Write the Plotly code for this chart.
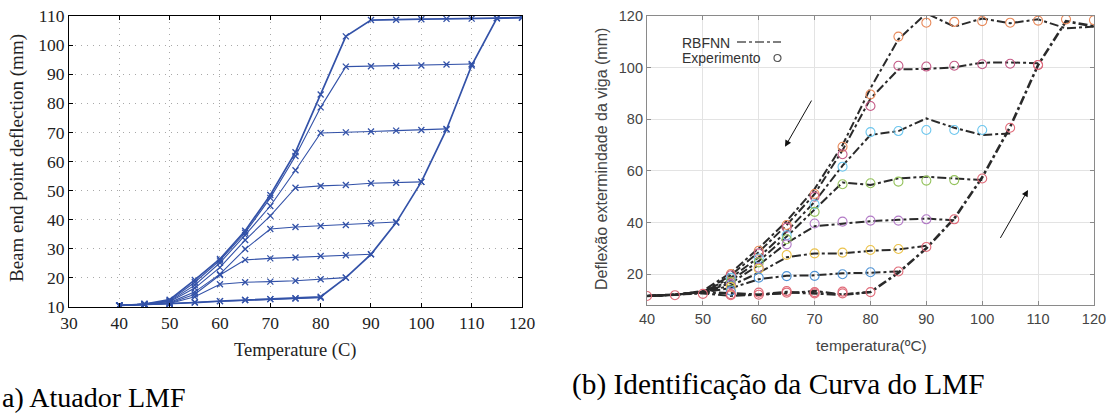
import plotly.graph_objects as go

# ---------------- Left panel data (a) ----------------
left_heat_T = [40, 45, 50, 55, 60, 65, 70, 75, 80, 85, 90, 95, 100, 105, 110, 115, 120]
left_heat_v = [10.5, 10.8, 11, 11.5, 12, 12.4, 12.7, 13, 13.5, 20.1, 28.1, 39, 53, 71, 93, 109.2, 109.5]

left_cool_T = {
    120: [120, 115, 110, 105, 100, 95, 90, 85, 80, 75, 70, 65, 60, 55, 50, 45, 40],
    110: [110, 105, 100, 95, 90, 85, 80, 75, 70, 65, 60, 55, 50, 45, 40],
    105: [105, 100, 95, 90, 85, 80, 75, 70, 65, 60, 55, 50, 45, 40],
    100: [100, 95, 90, 85, 80, 75, 70, 65, 60, 55, 50, 45, 40],
    95: [95, 90, 85, 80, 75, 70, 65, 60, 55, 50, 45, 40],
    90: [90, 85, 80, 75, 70, 65, 60, 55, 50, 45, 40],
    85: [85, 80, 75, 70, 65, 60, 55, 50, 45, 40],
    80: [80, 75, 70, 65, 60, 55, 50, 45, 40],
}
left_cool_v = {
    120: [109.4, 109.2, 109.1, 109, 108.9, 108.7, 108.6, 103, 83, 63.2, 48.5, 36.2, 26.5, 19.3, 12.5, 11, 10.5],
    110: [93.5, 93.3, 93, 92.8, 92.7, 92.6, 78.6, 61.9, 47.5, 35.5, 26, 18.5, 12.2, 11, 10.5],
    105: [71.2, 70.8, 70.6, 70.3, 70, 69.8, 57, 44.7, 34.7, 25.2, 17.5, 12, 11, 10.5],
    100: [53, 52.7, 52.5, 51.9, 51.6, 51, 41.3, 33, 23.6, 16.5, 11.8, 11, 10.5],
    95: [39.2, 38.8, 38.2, 37.8, 37.5, 36.8, 29.9, 21.3, 15.2, 11.5, 10.9, 10.5],
    90: [28.1, 27.8, 27.5, 27, 26.7, 26.2, 21, 14.4, 11.3, 10.8, 10.5],
    85: [20.1, 19.5, 19, 18.7, 18.5, 17.8, 13.5, 11.2, 10.8, 10.5],
    80: [13.2, 12.9, 12.7, 12.4, 12, 11.6, 11.1, 10.8, 10.5],
}

# ---------------- Right panel data (b) ----------------
heat_T = [40, 45, 50, 55, 60, 65, 70, 75, 80, 85, 90, 95, 100, 105, 110, 115, 120]
heat_rbf = [11.5, 12, 13, 12.5, 12, 13, 12.5, 12, 13, 20.5, 30, 41.5, 57.5, 77, 101, 118, 116]
heat_exp_T = [40, 45, 50, 55, 60, 65, 70, 75, 80, 85, 90, 95, 100, 105, 110]
heat_exp = [11.5, 11.8, 12.3, 11.8, 12, 12.8, 12.5, 12.5, 13, 21, 30.5, 41.2, 57, 76.7, 101]

cycle_max = [120, 110, 105, 100, 95, 90, 85, 80]
cycle_colors = ["#e8895a", "#c45a86", "#6cc6ee", "#93c25a", "#b27ac6", "#ebc24a", "#4f94d6", "#e06a78"]

rbf_T = {
    120: [120, 115, 110, 105, 100, 95, 90, 85, 80, 75, 70, 65, 60, 55, 50, 45, 40],
    110: [110, 105, 100, 95, 90, 85, 80, 75, 70, 65, 60, 55, 50, 45, 40],
    105: [105, 100, 95, 90, 85, 80, 75, 70, 65, 60, 55, 50, 45, 40],
    100: [100, 95, 90, 85, 80, 75, 70, 65, 60, 55, 50, 45, 40],
    95: [95, 90, 85, 80, 75, 70, 65, 60, 55, 50, 45, 40],
    90: [90, 85, 80, 75, 70, 65, 60, 55, 50, 45, 40],
    85: [85, 80, 75, 70, 65, 60, 55, 50, 45, 40],
    80: [80, 75, 70, 65, 60, 55, 50, 45, 40],
}
rbf_v = {
    120: [115.9, 115.2, 118.7, 117.2, 119, 115.9, 121, 111, 92, 70, 53, 40.5, 30, 20.5, 13.5, 12, 11.5],
    110: [101.7, 102, 101.9, 100.1, 99.5, 99.3, 88, 68, 51, 39, 28.5, 19.5, 13, 12, 11.5],
    105: [74.5, 73.9, 76.7, 80.3, 75.4, 73.9, 62, 48, 36.5, 26.5, 18.5, 13, 12, 11.5],
    100: [56.4, 57.1, 57.7, 57.1, 54.5, 55.5, 45, 34.5, 25, 17.5, 13, 12, 11.5],
    95: [40.8, 41.5, 41, 40.5, 39.5, 38.5, 32, 23.5, 16.5, 13, 12, 11.5],
    90: [31, 29.5, 29, 28, 28, 26.5, 20.5, 15.5, 13, 12, 11.5],
    85: [21, 20.5, 20.3, 19.5, 19.3, 18, 14.5, 13, 12, 11.5],
    80: [13, 12, 13.5, 12.5, 12, 11.5, 12.5, 12, 11.5],
}
exp_T = {
    120: [120, 115, 110, 105, 100, 95, 90, 85, 80, 75, 70, 65, 60, 55],
    110: [110, 105, 100, 95, 90, 85, 80, 75, 70, 65, 60, 55],
    105: [100, 95, 90, 85, 80, 75, 70, 65, 60, 55],
    100: [95, 90, 85, 80, 75, 70, 65, 60, 55],
    95: [90, 85, 80, 75, 70, 65, 60, 55],
    90: [85, 80, 75, 70, 65, 60, 55],
    85: [80, 75, 70, 65, 60, 55],
    80: [75, 70, 65, 60, 55],
}
exp_v = {
    120: [118.4, 118.7, 118.2, 117.4, 118, 117.7, 117.4, 112, 89.6, 69.3, 51, 39, 29, 20],
    110: [101, 101.5, 101.3, 100.7, 100.4, 100.7, 85.1, 66.4, 50, 38, 28, 19.5],
    105: [75.8, 75.8, 75.8, 75.4, 75, 61.6, 47, 35, 26, 18.5],
    100: [56.4, 56.2, 55.8, 55.2, 54.8, 44.1, 33.5, 24.5, 17],
    95: [41.2, 40.7, 40.7, 40.3, 39.6, 31.5, 22.5, 16],
    90: [29.7, 29.3, 28.3, 28, 27.4, 22, 15],
    85: [20.7, 19.9, 19.3, 19.2, 18.6, 13.5],
    80: [13.2, 13, 13.4, 12.8, 12.2],
}

arrows = [  # (tail T, tail v, head T, head v)
    (69.6, 87.8, 64.7, 69.3),
    (103.1, 33.4, 108.2, 52.6),
]

BLUE = "#3352a8"
fig = go.Figure()

# Left panel traces
for tmax in [80, 85, 90, 95, 100, 105, 110, 120]:
    fig.add_trace(go.Scatter(
        x=left_cool_T[tmax], y=left_cool_v[tmax], mode="lines+markers",
        line=dict(color=BLUE, width=1.7 if tmax == 120 else 1.1),
        marker=dict(symbol="x-thin", size=6, line=dict(color=BLUE, width=1.3)),
        xaxis="x", yaxis="y", showlegend=False))
fig.add_trace(go.Scatter(
    x=left_heat_T, y=left_heat_v, mode="lines+markers",
    line=dict(color=BLUE, width=1.7),
    marker=dict(symbol="x-thin", size=6, line=dict(color=BLUE, width=1.3)),
    xaxis="x", yaxis="y", showlegend=False))

# Right panel traces
fig.add_trace(go.Scatter(
    x=heat_T, y=heat_rbf, mode="lines", line=dict(color="#2a2a2a", width=2.6, dash="dashdot"),
    xaxis="x2", yaxis="y2", showlegend=False))
for tmax in cycle_max:
    fig.add_trace(go.Scatter(
        x=rbf_T[tmax], y=rbf_v[tmax], mode="lines",
        line=dict(color="#2a2a2a", width=2, dash="dashdot"),
        xaxis="x2", yaxis="y2", showlegend=False))
for tmax, col in zip(cycle_max, cycle_colors):
    fig.add_trace(go.Scatter(
        x=exp_T[tmax], y=exp_v[tmax], mode="markers",
        marker=dict(symbol="circle-open", size=9, color=col, line=dict(width=1.1)),
        xaxis="x2", yaxis="y2", showlegend=False))
fig.add_trace(go.Scatter(
    x=heat_exp_T, y=heat_exp, mode="markers",
    marker=dict(symbol="circle-open", size=9, color="#e06a78", line=dict(width=1.1)),
    xaxis="x2", yaxis="y2", showlegend=False))

serif = "Liberation Serif"
sans = "Liberation Sans, Arial, sans-serif"
GRAY = "#444444"

left_axis = dict(showgrid=True, gridcolor="#a8a8a8", griddash="1px,5px", gridwidth=1,
                 showline=True, linecolor="black", linewidth=1, mirror="ticks",
                 ticks="inside", ticklen=4, tickcolor="black", zeroline=False, automargin=False,
                 tickfont=dict(family=serif, size=17.5, color="#222"))
right_axis = dict(showgrid=True, gridcolor="#e3e3e3", gridwidth=1,
                  showline=True, linecolor="#8a8a8a", linewidth=1.2, mirror="ticks",
                  ticks="inside", ticklen=4, tickcolor="#8a8a8a", zeroline=False, automargin=False,
                  tickfont=dict(family=sans, size=14.5, color=GRAY))

fig.update_layout(
    template=None,
    width=1114, height=413, margin=dict(l=0, r=0, t=0, b=0, autoexpand=False),
    paper_bgcolor="white", plot_bgcolor="white", showlegend=False,
    xaxis=dict(domain=[0.0619, 0.4686], range=[30, 120], dtick=10, tick0=30, anchor="y", **left_axis),
    yaxis=dict(domain=[0.2567, 0.9613], range=[10, 110], dtick=10, tick0=10, anchor="x", **left_axis),
    xaxis2=dict(domain=[0.5808, 0.9820], range=[40, 120], dtick=10, tick0=40, anchor="y2", **right_axis),
    yaxis2=dict(domain=[0.2615, 0.9613], range=[8, 120], tickvals=[20, 40, 60, 80, 100, 120],
                anchor="x2", **right_axis),
)

ann = []
# axis titles
ann.append(dict(text="Temperature (C)", x=295.5 / 1114, y=1 - 350 / 413, xref="paper", yref="paper",
                showarrow=False, font=dict(family=serif, size=18.5, color="#222"),
                xanchor="center", yanchor="middle"))
ann.append(dict(text="Beam end point deflection (mm)", x=17 / 1114, y=1 - 158 / 413, xref="paper", yref="paper",
                showarrow=False, textangle=-90, font=dict(family=serif, size=19, color="#222"),
                xanchor="center", yanchor="middle"))
ann.append(dict(text="temperatura(ºC)", x=871 / 1114, y=1 - 345 / 413, xref="paper", yref="paper",
                showarrow=False, font=dict(family=sans, size=15.5, color=GRAY),
                xanchor="center", yanchor="middle"))
ann.append(dict(text="Deflexão extermindade da viga (mm)", x=601 / 1114, y=1 - 159 / 413, xref="paper", yref="paper",
                showarrow=False, textangle=-90, font=dict(family=sans, size=16, color=GRAY),
                xanchor="center", yanchor="middle"))
# captions
ann.append(dict(text="a) Atuador LMF", x=0, y=1 - 397 / 413, xref="paper", yref="paper",
                showarrow=False, font=dict(family=serif, size=28, color="black"),
                xanchor="left", yanchor="middle"))
ann.append(dict(text="(b) Identificação da Curva do LMF", x=570 / 1114, y=1 - 384 / 413, xref="paper", yref="paper",
                showarrow=False, font=dict(family=serif, size=29.3, color="black"),
                xanchor="left", yanchor="middle"))
# legend (manual, text then symbol)
ann.append(dict(text="RBFNN", x=680 / 1114, y=1 - 43 / 413, xref="paper", yref="paper",
                showarrow=False, font=dict(family=sans, size=14, color="#333"),
                xanchor="left", yanchor="middle"))
ann.append(dict(text="Experimento", x=680 / 1114, y=1 - 58 / 413, xref="paper", yref="paper",
                showarrow=False, font=dict(family=sans, size=14, color="#333"),
                xanchor="left", yanchor="middle"))
# arrows
for tT, tv, hT, hv in arrows:
    ann.append(dict(x=hT, y=hv, ax=tT, ay=tv, xref="x2", yref="y2", axref="x2", ayref="y2",
                    showarrow=True, arrowhead=2, arrowsize=1.3, arrowwidth=1, arrowcolor="#111", text=""))
fig.update_layout(annotations=ann)

shapes = [
    dict(type="line", xref="paper", yref="paper", x0=737 / 1114, x1=781 / 1114,
         y0=1 - 42 / 413, y1=1 - 42 / 413, line=dict(color="#555", width=1.3, dash="dashdot")),
    dict(type="circle", xref="paper", yref="paper", x0=774 / 1114, x1=781 / 1114,
         y0=1 - 61.5 / 413, y1=1 - 54.5 / 413, line=dict(color="#555", width=1.2)),
]
fig.update_layout(shapes=shapes)

fig.write_html("out.html")
